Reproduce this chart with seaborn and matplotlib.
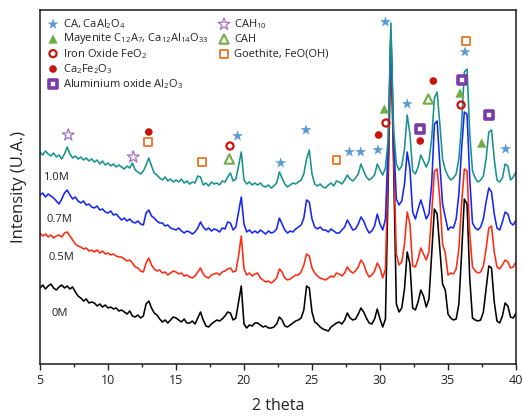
import numpy as np
import pandas as pd
import matplotlib
matplotlib.use("Agg")
import matplotlib.pyplot as plt
import seaborn as sns

sns.set_style("white")
plt.rcParams["font.family"] = ["Open Sans", "DejaVu Sans"]
plt.rcParams["mathtext.fontset"] = "custom"
plt.rcParams["mathtext.rm"] = "Open Sans"
plt.rcParams["mathtext.it"] = "Open Sans:italic"
plt.rcParams["mathtext.bf"] = "Open Sans:bold"

# ---------------- data ----------------
two_theta = np.round(np.arange(5.0, 40.01, 0.2), 1)

int_1_0M = [
    212, 209, 213, 210, 208, 211, 207, 209, 205, 210,
    217, 210, 206, 208, 205, 207, 204, 206, 203, 205,
    202, 204, 200, 203, 199, 201, 198, 200, 197, 199,
    197, 195, 198, 196, 201, 194, 192, 190, 193, 199,
    206, 198, 191, 189, 186, 184, 187, 183, 185, 182,
    184, 182, 185, 181, 183, 180, 182, 181, 188, 187,
    179, 181, 178, 182, 180, 181, 179, 183, 182, 187,
    191, 183, 185, 198, 212, 184, 180, 182, 179, 181,
    179, 181, 178, 177, 179, 176, 178, 181, 192, 186,
    180, 177, 179, 181, 180, 182, 184, 190, 205, 214,
    190, 180, 178, 180, 177, 176, 179, 181, 178, 183,
    182, 180, 184, 189, 185, 183, 186, 190, 200, 193,
    187, 184, 186, 189, 200, 194, 189, 196, 225, 341,
    235, 200, 194, 198, 215, 249, 230, 193, 190, 197,
    209, 203, 197, 203, 225, 266, 272, 240, 205, 194,
    188, 184, 186, 190, 205, 240, 292, 295, 230, 193,
    186, 182, 184, 188, 205, 232, 234, 205, 184, 182,
    186, 200, 198, 184, 187, 192,
]

int_0_7M = [
    169, 171, 167, 170, 168, 166, 163, 160, 165, 171,
    174, 169, 165, 167, 163, 161, 163, 159, 160, 157,
    156, 158, 154, 155, 152, 151, 153, 149, 150, 147,
    144, 146, 143, 145, 142, 141, 143, 140, 139, 151,
    154, 148, 146, 143, 141, 141, 138, 139, 136, 135,
    134, 136, 133, 131, 133, 132, 130, 132, 136, 142,
    137, 134, 136, 133, 135, 134, 132, 136, 135, 142,
    141, 134, 137, 152, 167, 140, 132, 134, 131, 133,
    131, 134, 132, 130, 133, 131, 132, 135, 146, 140,
    134, 131, 133, 132, 135, 137, 139, 146, 164, 162,
    145, 137, 135, 137, 134, 134, 132, 135, 133, 131,
    131, 134, 137, 144, 139, 134, 135, 140, 147, 143,
    136, 131, 133, 138, 150, 140, 134, 145, 220, 334,
    225, 165, 159, 163, 180, 212, 195, 152, 145, 155,
    164, 155, 145, 150, 180, 240, 243, 200, 160, 147,
    134, 137, 136, 145, 170, 215, 252, 250, 185, 141,
    136, 134, 137, 145, 162, 176, 172, 150, 136, 134,
    142, 152, 150, 141, 139, 144,
]

int_0_5M = [
    131, 128, 130, 127, 129, 126, 128, 129, 127, 131,
    132, 128, 124, 120, 118, 117, 115, 116, 113, 114,
    112, 114, 111, 113, 110, 111, 109, 110, 108, 107,
    107, 105, 103, 104, 101, 97, 96, 93, 92, 101,
    106, 99, 95, 93, 94, 91, 92, 89, 91, 93,
    92, 90, 91, 88, 89, 87, 86, 88, 92, 96,
    90, 87, 86, 89, 90, 91, 89, 92, 93, 95,
    96, 92, 93, 108, 128, 95, 89, 91, 88, 90,
    91, 86, 84, 82, 83, 81, 83, 86, 95, 92,
    86, 84, 85, 87, 89, 89, 92, 99, 110, 108,
    96, 91, 88, 86, 85, 84, 86, 88, 87, 91,
    90, 88, 91, 97, 93, 91, 93, 97, 104, 100,
    92, 87, 89, 93, 101, 96, 86, 95, 200, 330,
    210, 110, 99, 102, 120, 152, 140, 98, 97, 105,
    116, 110, 104, 112, 150, 193, 195, 165, 120, 111,
    89, 91, 90, 95, 115, 160, 195, 193, 130, 97,
    93, 91, 92, 98, 115, 136, 138, 112, 97, 95,
    99, 104, 102, 96, 97, 102,
]

int_0M = [
    76, 79, 75, 78, 80, 76, 74, 77, 79, 76,
    78, 75, 77, 72, 68, 66, 63, 65, 61, 62,
    61, 58, 60, 57, 59, 56, 57, 55, 56, 53,
    54, 52, 50, 53, 48, 47, 49, 46, 48, 60,
    63, 56, 51, 49, 45, 42, 44, 41, 44, 47,
    46, 44, 42, 45, 41, 41, 43, 40, 46, 52,
    44, 38, 37, 40, 42, 44, 43, 45, 48, 52,
    51, 44, 46, 62, 78, 40, 36, 39, 38, 41,
    41, 39, 37, 38, 36, 36, 37, 40, 47, 44,
    38, 37, 39, 41, 43, 44, 46, 54, 78, 76,
    52, 42, 40, 37, 35, 34, 33, 37, 39, 41,
    42, 40, 44, 51, 46, 44, 45, 50, 56, 52,
    46, 41, 40, 45, 55, 45, 37, 45, 180, 325,
    200, 60, 52, 56, 75, 112, 100, 56, 54, 62,
    74, 68, 57, 65, 110, 155, 150, 115, 80, 74,
    50, 46, 44, 45, 60, 110, 165, 160, 85, 46,
    44, 43, 44, 52, 75, 98, 96, 62, 43, 41,
    48, 61, 58, 47, 46, 51,
]

series_names = ["0M", "0.5M", "0.7M", "1.0M"]
series_colors = ["#000000", "#FF2A12", "#1426F5", "#17928E"]
series_values = [int_0M, int_0_5M, int_0_7M, int_1_0M]
label_pos = [(6.47, 51), (6.58, 107), (6.4, 144), (6.21, 187)]

# phase markers (2theta, height)
ca_x = [19.53, 22.7, 24.56, 27.75, 28.58, 29.85, 30.4, 32.0, 36.25, 39.24]
ca_y = [228, 201, 234, 212, 212, 214, 342, 260, 312, 215]
may_x = [30.32, 35.88, 37.48]
may_y = [255, 271, 221]
feo2_x = [18.97, 30.44, 35.96]
feo2_y = [218, 241, 259]
cafe_x = [13.0, 29.9, 32.96, 33.92]
cafe_y = [232, 229, 223, 283]
al2o3_x = [32.95, 36.0, 38.04]
al2o3_y = [235, 284, 249]
cah10_x = [7.08, 11.86]
cah10_y = [229, 207]
cah_x = [18.92, 33.55]
cah_y = [205, 265]
goe_x = [12.92, 16.89, 26.8, 36.3]
goe_y = [222, 202, 204, 323]

phase_labels = [
    r"CA, CaAl$_2$O$_4$",
    r"Mayenite C$_{12}$A$_7$, Ca$_{12}$Al$_{14}$O$_{33}$",
    r"Iron Oxide FeO$_2$",
    r"Ca$_2$Fe$_2$O$_3$",
    r"Aluminium oxide Al$_2$O$_3$",
    r"CAH$_{10}$",
    r"CAH",
    r"Goethite, FeO(OH)",
]

BLUE = "#5B9BD5"
GREEN = "#70AD47"
RED = "#C8140C"
ORANGE = "#ED7D31"
PURPLE = "#7A3DA8"
LPURPLE = "#A070C8"

phase_styles = [
    dict(marker="*", s=70, c=BLUE, edgecolors="none"),
    dict(marker="^", s=45, c=GREEN, edgecolors="none"),
    dict(marker="o", s=26, facecolors="none", edgecolors=RED, linewidths=1.6),
    dict(marker="o", s=30, c=RED, edgecolors="none"),
    dict(marker="s", s=40, facecolors="white", edgecolors=PURPLE, linewidths=2.6),
    dict(marker="*", s=80, facecolors="none", edgecolors=LPURPLE, linewidths=0.9),
    dict(marker="^", s=45, facecolors="none", edgecolors=GREEN, linewidths=1.5),
    dict(marker="s", s=32, facecolors="none", edgecolors=ORANGE, linewidths=1.4),
]
phase_points = [
    (ca_x, ca_y), (may_x, may_y), (feo2_x, feo2_y), (cafe_x, cafe_y),
    (al2o3_x, al2o3_y), (cah10_x, cah10_y), (cah_x, cah_y), (goe_x, goe_y),
]

# ---------------- figure ----------------
W, H = 523, 416
fig = plt.figure(figsize=(W / 100, H / 100), dpi=100)
ax = fig.add_axes([40 / W, 52 / H, 476 / W, 354 / H])

for name, col, vals in zip(series_names, series_colors, series_values):
    df = pd.DataFrame({"two_theta": two_theta, "intensity": vals})
    sns.lineplot(data=df, x="two_theta", y="intensity", color=col, lw=1.15,
                 sort=False, estimator=None, ax=ax)

for name, (lx, ly) in zip(series_names, label_pos):
    ax.text(lx, ly, name, fontsize=8, ha="center", va="center", color="#222222")

for (px, py), st in zip(phase_points, phase_styles):
    ax.scatter(px, py, zorder=5, **st)

# legend (manual, in axes coordinates)
col_x = [(53 - 40) / 476, (224 - 40) / 476]
txt_dx = 10 / 476
rows_y = [(364 - y) / 354 for y in (24.3, 39.0, 53.6, 69.0, 83.6)]
slots = [(0, 0), (0, 1), (0, 2), (0, 3), (0, 4), (1, 0), (1, 1), (1, 2)]
for (c, r), lab, st in zip(slots, phase_labels, phase_styles):
    ax.scatter([col_x[c]], [rows_y[r]], transform=ax.transAxes, zorder=6,
               clip_on=False, **st)
    ax.text(col_x[c] + txt_dx, rows_y[r], lab, transform=ax.transAxes,
            fontsize=8, va="center", ha="left", color="#222222")

ax.set_xlim(5, 40)
ax.set_ylim(0, 354)
ax.set_xticks([5, 10, 15, 20, 25, 30, 35, 40])
ax.set_xticks([7.5, 12.5, 17.5, 22.5, 27.5, 32.5, 37.5], minor=True)
ax.set_yticks([])
ax.tick_params(axis="x", which="major", direction="out", length=4, width=1,
               labelsize=9, pad=3, bottom=True, colors="#222222")
ax.tick_params(axis="x", which="minor", direction="out", length=2.5, width=1,
               bottom=True)
for sp in ax.spines.values():
    sp.set_color("#1a1a1a")
    sp.set_linewidth(1.1)

ax.set_xlabel("2 theta", fontsize=11.5, color="#222222")
ax.set_ylabel("Intensity (U.A.)", fontsize=12, color="#222222")
ax.xaxis.set_label_coords(0.5, -0.095)
ax.yaxis.set_label_coords(-0.028, 0.5)

fig.savefig("out.png", dpi=100)
